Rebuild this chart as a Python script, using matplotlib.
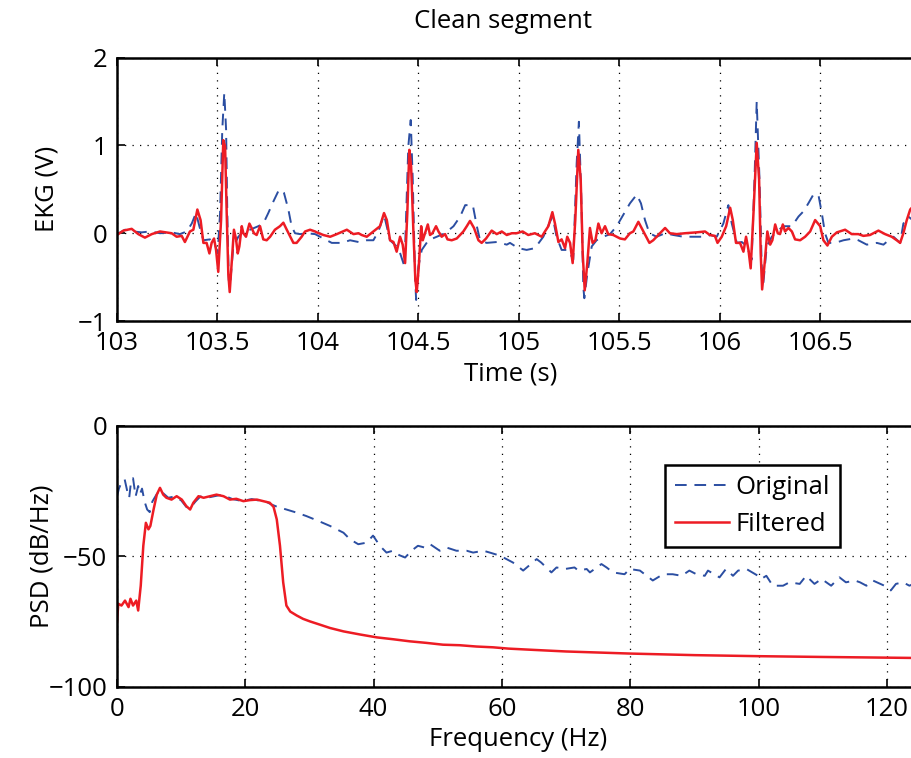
import matplotlib
matplotlib.use("Agg")
import matplotlib.pyplot as plt

plt.rcParams['font.family'] = ['Open Sans', 'DejaVu Sans']

# EKG segment, original (dashed) and filtered (solid)
ekg_t_orig = [
    103.000, 103.040, 103.081, 103.123, 103.164, 103.214, 103.272, 103.313, 103.347, 103.372,
    103.393, 103.410, 103.430, 103.463, 103.488, 103.501, 103.513, 103.524, 103.534, 103.543,
    103.549, 103.556, 103.562, 103.579, 103.604, 103.629, 103.662, 103.703, 103.728, 103.753,
    103.778, 103.803, 103.815, 103.831, 103.853, 103.869, 103.886, 103.911, 103.944, 103.986,
    104.011, 104.069, 104.119, 104.160, 104.202, 104.243, 104.276, 104.301, 104.329, 104.359,
    104.401, 104.431, 104.450, 104.462, 104.472, 104.484, 104.489, 104.500, 104.517, 104.550,
    104.592, 104.633, 104.675, 104.708, 104.733, 104.771, 104.791, 104.807, 104.840, 104.890,
    104.940,
    104.956, 104.997, 105.039, 105.080, 105.122, 105.155, 105.168, 105.188, 105.213, 105.246,
    105.271, 105.288, 105.299, 105.311, 105.321, 105.326, 105.341, 105.363, 105.387, 105.421,
    105.454, 105.487, 105.520, 105.553, 105.587, 105.608, 105.628, 105.650, 105.686, 105.728,
    105.769, 105.819, 105.885, 105.935,
    105.952, 105.985, 106.018, 106.043, 106.060, 106.085, 106.110, 106.135, 106.159, 106.173,
    106.184, 106.198, 106.209, 106.217, 106.234, 106.259, 106.284, 106.317, 106.359, 106.392,
    106.417, 106.441, 106.466, 106.491, 106.508, 106.524, 106.541, 106.574, 106.616, 106.665,
    106.690, 106.732, 106.782, 106.815, 106.840, 106.865, 106.898, 106.914, 106.939, 106.960,
]
ekg_orig = [
    -0.01, 0.04, 0.02, 0.01, 0.02, 0.00, 0.01, -0.01, 0.02, 0.11,
    0.23, 0.08, -0.08, -0.07, -0.13, -0.23, 0.23, 1.18, 1.60, 1.18,
    0.23, -0.53, -0.61, -0.15, -0.04, 0.02, 0.04, 0.08, 0.11, 0.23,
    0.36, 0.48, 0.50, 0.46, 0.27, 0.08, 0.00, -0.01, 0.00, -0.01,
    -0.04, -0.11, -0.11, -0.08, -0.10, -0.08, -0.08, 0.02, 0.21, -0.08,
    -0.17, -0.38, 0.99, 1.29, 0.61, -0.53, -0.76, -0.38, -0.19, -0.08,
    -0.04, 0.00, 0.08, 0.19, 0.32, 0.32, 0.08, -0.08, -0.11, -0.10,
    -0.13,
    -0.11, -0.17, -0.19, -0.17, -0.04, 0.13, 0.19, -0.04, -0.19, -0.19,
    -0.30, 0.80, 1.27, 0.42, -0.61, -0.74, -0.46, -0.15, -0.08, -0.04,
    -0.01, 0.08, 0.21, 0.34, 0.44, 0.34, 0.15, 0.00, -0.04, 0.00,
    -0.02, -0.04, -0.04, -0.04,
    -0.02, -0.04, 0.11, 0.32, 0.11, -0.11, -0.10, -0.15, -0.30, 0.61,
    1.50, 0.61, -0.38, -0.57, -0.15, -0.04, 0.02, 0.08, 0.08, 0.19,
    0.25, 0.34, 0.44, 0.44, 0.23, 0.00, -0.11, -0.11, -0.08, -0.06,
    -0.08, -0.13, -0.11, -0.13, -0.08, -0.04, -0.11, 0.11, 0.19, 0.15,
]

ekg_t_filt = [
    103.000, 103.032, 103.073, 103.106, 103.139, 103.173, 103.214, 103.272, 103.297, 103.322,
    103.338, 103.363, 103.380, 103.400, 103.416, 103.430, 103.446, 103.460, 103.471, 103.483,
    103.493, 103.504, 103.518, 103.529, 103.538, 103.546, 103.554, 103.561, 103.571, 103.582,
    103.592, 103.601, 103.609, 103.621, 103.629, 103.642, 103.659, 103.670, 103.682, 103.695,
    103.712, 103.728, 103.745, 103.762, 103.786, 103.811, 103.828, 103.845, 103.878, 103.894,
    103.919, 103.936, 103.961, 103.986,
    103.994, 104.027, 104.061, 104.094, 104.144, 104.177, 104.202, 104.218, 104.243, 104.276,
    104.309, 104.329, 104.343, 104.359, 104.376, 104.392, 104.409, 104.422, 104.434, 104.445,
    104.455, 104.464, 104.475, 104.485, 104.492, 104.502, 104.514, 104.522, 104.533, 104.547,
    104.558, 104.570, 104.588, 104.600, 104.616, 104.633, 104.645, 104.666, 104.691, 104.724,
    104.741, 104.757, 104.777, 104.799, 104.815, 104.837, 104.865, 104.890, 104.915, 104.940,
    104.965,
    104.989, 105.019, 105.047, 105.080, 105.114, 105.130, 105.147, 105.167, 105.180, 105.197,
    105.213, 105.230, 105.241, 105.255, 105.268, 105.281, 105.296, 105.308, 105.318, 105.328,
    105.341, 105.354, 105.367, 105.381, 105.396, 105.412, 105.429, 105.445, 105.470, 105.487,
    105.504, 105.528, 105.553, 105.570, 105.595, 105.620, 105.650, 105.669, 105.703, 105.728,
    105.752, 105.786, 105.827, 105.885, 105.927, 105.951, 105.976,
    105.989, 106.010, 106.032, 106.052, 106.065, 106.081, 106.101, 106.118, 106.131, 106.143,
    106.154, 106.168, 106.184, 106.196, 106.204, 106.211, 106.222, 106.237, 106.251, 106.262,
    106.276, 106.289, 106.300, 106.314, 106.325, 106.342, 106.359, 106.375, 106.400, 106.425,
    106.450, 106.475, 106.500, 106.516, 106.536, 106.558, 106.583, 106.624, 106.657, 106.690,
    106.715, 106.748, 106.790, 106.823, 106.856, 106.881, 106.898, 106.914, 106.931, 106.948,
    106.960,
]
ekg_filt = [
    -0.02, 0.03, 0.05, -0.01, -0.05, -0.01, 0.02, 0.00, -0.04, -0.03,
    -0.10, 0.02, 0.04, 0.27, 0.15, -0.11, -0.11, -0.23, -0.11, -0.06,
    -0.19, -0.44, 0.15, 1.06, 0.99, 0.23, -0.46, -0.67, -0.34, 0.04,
    -0.06, -0.23, -0.15, 0.08, 0.00, -0.04, 0.11, 0.06, 0.00, -0.02,
    0.08, -0.07, -0.08, -0.04, 0.04, 0.08, 0.12, 0.04, -0.11, -0.11,
    -0.04, 0.02, 0.04, 0.02,
    0.01, -0.02, -0.04, -0.01, 0.04, -0.01, 0.00, -0.02, -0.04, 0.02,
    0.08, 0.23, 0.15, -0.08, -0.10, -0.21, -0.04, -0.13, -0.34, 0.23,
    0.95, 0.76, 0.04, -0.53, -0.67, -0.38, 0.08, -0.08, 0.00, 0.10,
    -0.02, 0.00, 0.08, 0.02, -0.04, -0.01, -0.07, -0.08, -0.06, 0.02,
    0.08, 0.14, 0.06, -0.08, -0.11, -0.06, 0.03, -0.01, 0.02, -0.02,
    0.00,
    0.00, 0.02, -0.02, 0.00, -0.04, 0.02, 0.08, 0.24, 0.11, -0.10,
    -0.07, -0.17, -0.04, -0.11, -0.34, 0.15, 0.95, 0.61, -0.23, -0.65,
    -0.34, 0.06, -0.11, -0.08, 0.11, 0.00, 0.08, -0.01, -0.02, -0.04,
    -0.06, -0.07, 0.00, 0.02, 0.13, 0.02, -0.11, -0.08, 0.00, 0.06,
    0.00, -0.01, 0.00, 0.01, 0.02, -0.02, -0.03,
    -0.11, -0.04, 0.08, 0.29, 0.15, -0.11, -0.11, -0.21, -0.04, -0.19,
    -0.40, 0.23, 1.03, 0.61, -0.23, -0.64, -0.38, 0.02, -0.13, -0.08,
    0.10, 0.00, -0.01, 0.10, 0.02, 0.06, 0.02, -0.07, -0.08, -0.04,
    0.02, 0.15, 0.08, -0.08, -0.14, -0.04, 0.01, 0.04, -0.01, -0.01,
    -0.03, -0.02, 0.03, -0.01, -0.04, -0.08, -0.11, 0.00, 0.15, 0.27,
    0.30,
]

# power spectral density
psd_f_orig = [
    0.0, 0.3, 0.8, 1.2, 1.6, 1.9, 2.2, 2.5, 2.9, 3.3, 3.6, 3.9, 4.3, 4.7, 5.1, 5.5,
    6.1, 6.7, 7.3, 8.0, 9.0, 10.0, 10.8, 11.4, 12.2, 13.0, 14.0, 15.0, 16.0, 17.0,
    18.0, 19.0, 20.0, 21.0, 22.0, 23.0, 24.0, 25.0, 26.4, 28.0, 29.5, 31.4, 33.2,
    35.3, 36.3, 37.6, 38.9, 39.9, 41.0, 42.0, 43.0, 44.0, 44.9, 45.9, 46.9, 48.0,
    48.8, 50.3, 51.4, 52.9, 54.5, 55.5, 57.1, 58.1, 59.7, 61.7, 63.3, 65.4, 66.1,
    67.7, 68.5, 69.8, 71.3, 71.9, 73.2, 73.7, 75.5, 76.3, 77.3, 79.1, 79.9, 81.5,
    83.5, 85.1, 86.6, 88.0, 89.2, 90.3, 91.6, 92.1, 93.9, 94.9, 96.0, 96.8, 98.1,
    99.9, 100.4, 101.2, 102.2, 103.8, 104.8, 106.4, 107.4, 108.7, 109.8, 111.3,
    112.6, 113.6, 115.0, 115.8, 116.8, 117.8, 119.6, 120.6, 121.4, 122.5, 123.5, 125.0,
]
psd_orig = [
    -27.0, -24.0, -21.0, -20.5, -25.0, -27.5, -21.0, -20.0, -27.0, -23.0, -26.0, -24.0, -29.0, -32.0, -33.0, -29.0,
    -26.5, -24.5, -26.0, -27.5, -27.0, -28.5, -31.0, -31.5, -29.0, -27.0, -27.5, -27.0, -26.5, -27.0,
    -28.0, -28.5, -28.5, -28.0, -28.5, -28.7, -30.0, -31.0, -32.0, -33.2, -34.5, -36.4, -38.3,
    -40.9, -43.4, -45.3, -44.7, -42.0, -46.0, -48.5, -47.8, -49.5, -50.4, -47.8, -45.9, -46.6,
    -45.3, -47.8, -46.6, -47.8, -47.8, -48.5, -47.8, -48.5, -49.7, -52.3, -55.4, -51.0, -52.3,
    -56.1, -54.2, -54.8, -54.2, -55.4, -54.8, -56.1, -52.9, -54.2, -56.1, -56.8, -54.8, -55.4,
    -59.2, -56.8, -56.8, -57.4, -55.4, -56.8, -57.4, -55.4, -58.0, -54.8, -57.4, -55.4, -54.8,
    -57.4, -58.6, -57.4, -61.2, -61.2, -59.9, -60.5, -57.4, -60.5, -58.6, -61.2,
    -58.0, -59.9, -59.2, -59.9, -61.2, -59.2, -61.2, -63.0, -60.5, -59.9, -61.2, -59.5,
]
psd_f_filt = [
    0.0, 0.2, 0.7, 1.25, 1.8, 2.1, 2.5, 3.0, 3.3, 3.7, 4.1, 4.5, 4.9, 5.2, 5.7, 6.2,
    6.7, 7.2, 7.7, 8.5, 9.3, 10.1, 10.8, 11.4, 11.9, 12.7, 13.5, 14.5, 15.5, 16.6,
    17.6, 18.6, 19.7, 20.7, 21.8, 22.8, 23.8, 24.4, 24.9, 25.4, 25.9, 26.4, 27.0,
    28.0, 29.0, 30.1, 31.6, 33.2, 35.3, 37.9, 40.5, 43.0, 45.6, 48.2, 50.8, 53.4,
    56.0, 58.6, 61.0, 65.0, 70.0, 80.0, 90.0, 100.0, 110.0, 125.0,
]
psd_filt = [
    -75.1, -68.1, -68.8, -66.9, -69.4, -66.2, -68.8, -66.9, -70.7, -61.2, -45.9, -37.1, -39.6, -38.3, -32.0, -26.3,
    -23.7, -26.3, -27.5, -28.2, -26.9, -28.2, -30.7, -32.0, -29.4, -26.9, -27.5, -26.9, -26.3, -26.9,
    -28.2, -27.9, -28.8, -28.4, -28.2, -28.8, -29.4, -31.0, -35.8, -45.9, -59.9, -68.8, -71.1,
    -72.6, -73.9, -74.9, -76.1, -77.4, -78.7, -79.9, -81.0, -81.7, -82.5, -83.1, -83.8, -84.0,
    -84.5, -84.8, -85.3, -85.8, -86.4, -87.2, -87.8, -88.2, -88.5, -88.9,
]

BLUE = '#2b4ea2'
RED = '#ed1c24'
FS = 18.5

fig = plt.figure(figsize=(9.12, 7.58), dpi=100)
ax1 = fig.add_axes([117 / 912, 0.5765, 1 - 117 / 912, 0.3474])
ax2 = fig.add_axes([117 / 912, 0.0937, 1 - 117 / 912, 0.3443])

grid_kw = dict(color='black', linestyle=(0, (1, 5)), linewidth=0.9)

for ax in (ax1, ax2):
    ax.grid(True, **grid_kw)
    ax.set_axisbelow(True)
    ax.tick_params(direction='in', length=6, width=1.2, labelsize=FS, top=True,
                   right=False, pad=7)
    for side in ('left', 'top', 'bottom'):
        ax.spines[side].set_linewidth(1.8)
    ax.spines['right'].set_visible(False)

# top panel
ax1.plot(ekg_t_orig, ekg_orig, color=BLUE, linewidth=1.4, dashes=(6, 4))
ax1.plot(ekg_t_filt, ekg_filt, color=RED, linewidth=1.8)
ax1.set_xlim(103, 106.957)
ax1.set_ylim(-1, 2)
ax1.set_xticks([103, 103.5, 104, 104.5, 105, 105.5, 106, 106.5])
ax1.set_xticklabels(['103', '103.5', '104', '104.5', '105', '105.5', '106', '106.5'])
ax1.set_yticks([-1, 0, 1, 2])
ax1.set_yticklabels(['\u22121', '0', '1', '2'])
ax1.set_xlabel('Time (s)', fontsize=FS)
ax1.xaxis.set_label_coords((511 - 117) / 795, -0.155)
ax1.set_ylabel('EKG (V)', fontsize=FS)
ax1.yaxis.set_label_coords(-0.072, 0.5)
fig.text(503 / 912, 1 - 22 / 758, 'Clean segment', fontsize=FS, ha='center', va='center')

# bottom panel
ax2.plot(psd_f_orig, psd_orig, color=BLUE, linewidth=1.4, dashes=(6, 4), label='Original')
ax2.plot(psd_f_filt, psd_filt, color=RED, linewidth=1.8, label='Filtered')
ax2.set_xlim(0, 123.9)
ax2.set_ylim(-100, 0)
ax2.set_xticks([0, 20, 40, 60, 80, 100, 120])
ax2.set_yticks([-100, -50, 0])
ax2.set_yticklabels(['\u2212100', '\u221250', '0'])
ax2.set_xlabel('Frequency (Hz)', fontsize=FS)
ax2.xaxis.set_label_coords((518 - 117) / 795, -0.155)
ax2.set_ylabel('PSD (dB/Hz)', fontsize=FS)
ax2.yaxis.set_label_coords(-0.078, 0.5)

leg = ax2.legend(loc='upper left', bbox_to_anchor=(0.689, 0.851), borderaxespad=0,
                 fontsize=FS, fancybox=False, framealpha=1, edgecolor='black',
                 handlelength=2.1, handletextpad=0.25, borderpad=0.4, labelspacing=0.45)
leg.get_frame().set_linewidth(1.8)

fig.savefig('out.png', dpi=100)
